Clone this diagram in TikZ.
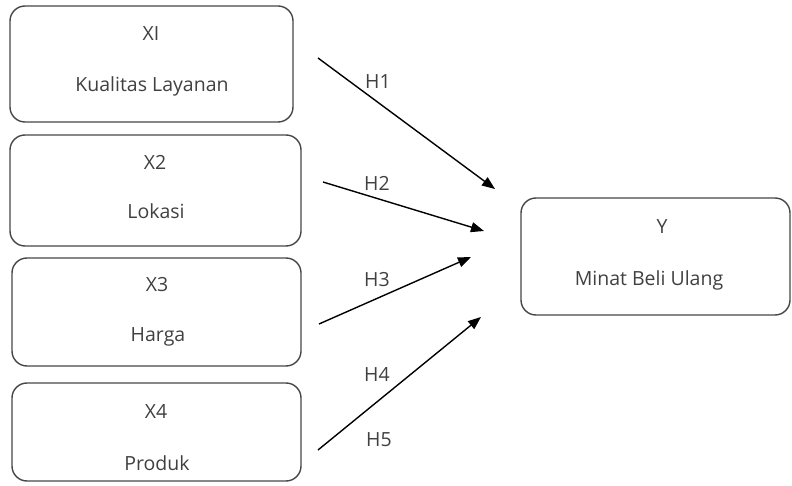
\documentclass[tikz,border=0pt]{standalone}
\usepackage{fontspec}
\setmainfont{Open Sans}
\usetikzlibrary{arrows.meta}
\definecolor{txtgrey}{RGB}{64,64,64}
\definecolor{boxgrey}{RGB}{70,70,70}

\begin{document}
\begin{tikzpicture}[x=1pt,y=-1pt]
   \tikzset{box/.style={draw=boxgrey,line width=1.4pt,rounded corners=15pt},
            lbl/.style={text=txtgrey,font=\fontsize{19.5}{22}\selectfont,inner sep=0pt},
            arr/.style={line width=1.4pt,-{Triangle[length=13pt,width=10pt]}}}
   \useasboundingbox (0,0) rectangle (792,486);
   \draw[box] (10,6) rectangle (293,122);
   \draw[box] (10,135) rectangle (301,246);
   \draw[box] (12,258) rectangle (301,366);
   \draw[box] (12,383) rectangle (301,481);
   \draw[box] (521,198) rectangle (790,315);
   \node[lbl] (x1) at (151,34) {XI};
   \node[lbl] (kl) at (152,86) {Kualitas Layanan};
   \node[lbl] (x2) at (155,162) {X2};
   \node[lbl] (lk) at (156,211) {Lokasi};
   \node[lbl] (x3) at (157,285) {X3};
   \node[lbl] (hg) at (158,337) {Harga};
   \node[lbl] (x4) at (156,411) {X4};
   \node[lbl] (pr) at (157,463) {Produk};
   \node[lbl] (y) at (662,227) {Y};
   \node[lbl] (mb) at (649,280) {Minat Beli Ulang};
   % hipotesis
   \coordinate (h1a) at (318,58);  \coordinate (h1b) at (495,189);
   \coordinate (h2a) at (323,182); \coordinate (h2b) at (484,231);
   \coordinate (h3a) at (319,324); \coordinate (h3b) at (471,257);
   \coordinate (h4a) at (318,450); \coordinate (h4b) at (481,317);
   \draw[arr] (h1a) -- (h1b);
   \draw[arr] (h2a) -- (h2b);
   \draw[arr] (h3a) -- (h3b);
   \draw[arr] (h4a) -- (h4b);
   \node[lbl] (t1) at (378,82) {H1};
   \node[lbl] (t2) at (377,183) {H2};
   \node[lbl] (t3) at (377,280) {H3};
   \node[lbl] (t4) at (377,375) {H4};
   \node[lbl] (t5) at (379,440) {H5};
\end{tikzpicture}
\end{document}
